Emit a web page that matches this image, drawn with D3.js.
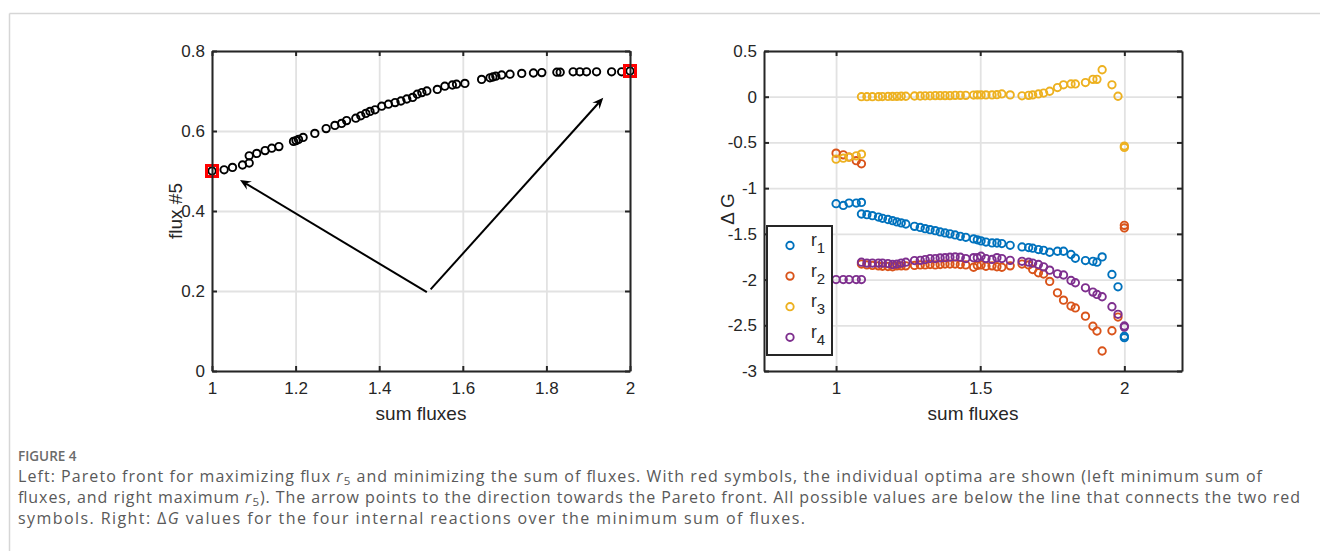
<!DOCTYPE html>
<html>
<head>
<meta charset="utf-8">
<script src="https://cdn.jsdelivr.net/npm/d3@7"></script>
<style>
  body { margin: 0; background: #fff; }
  svg { display: block; }
</style>
</head>
<body>
<svg id="fig" width="1320" height="551"></svg>
<script>
// ---------- Left panel: Pareto front (sum of fluxes vs flux #5) ----------
const paretoSum = [1.000,1.029,1.049,1.073,1.089,1.089,1.107,1.127,1.143,1.160,1.195,1.201,1.207,1.218,1.246,
  1.273,1.294,1.310,1.322,1.344,1.356,1.368,1.378,1.390,1.406,1.422,1.438,1.452,1.466,1.480,1.491,1.502,
  1.514,1.539,1.557,1.575,1.585,1.605,1.645,1.665,1.672,1.679,1.693,1.713,1.741,1.769,1.789,1.825,1.833,
  1.864,1.880,1.896,1.920,1.956,1.980,2.000];
const paretoFlux5 = [0.500,0.503,0.509,0.515,0.520,0.538,0.544,0.551,0.557,0.561,0.574,0.576,0.579,0.584,0.594,
  0.606,0.614,0.619,0.626,0.632,0.638,0.644,0.649,0.653,0.662,0.667,0.671,0.675,0.680,0.684,0.692,0.696,
  0.700,0.704,0.712,0.715,0.717,0.719,0.729,0.733,0.735,0.737,0.740,0.742,0.744,0.745,0.746,0.747,0.747,
  0.748,0.748,0.748,0.748,0.748,0.748,0.750];
// individual optima (red squares)
const optimaSum = [1.0, 2.0];
const optimaFlux5 = [0.50, 0.75];
// direction arrows towards the front
const arrowTails = [[1.514, 0.197], [1.523, 0.204]];
const arrowTips  = [[1.067, 0.4775], [1.936, 0.683]];

const leftXTicks = [1, 1.2, 1.4, 1.6, 1.8, 2];
const leftXTickLabels = ["1", "1.2", "1.4", "1.6", "1.8", "2"];
const leftYTicks = [0, 0.2, 0.4, 0.6, 0.8];
const leftYTickLabels = ["0", "0.2", "0.4", "0.6", "0.8"];

// ---------- Right panel: ΔG of the four internal reactions ----------
const sumFluxes = [1.000,1.025,1.045,1.070,1.088,1.088,1.107,1.126,1.147,1.161,1.180,1.196,1.211,1.226,1.242,
  1.272,1.292,1.309,1.326,1.344,1.361,1.378,1.395,1.413,1.431,1.450,1.477,1.490,1.503,1.520,1.541,1.558,
  1.575,1.604,1.645,1.668,1.682,1.702,1.720,1.741,1.768,1.789,1.815,1.830,1.865,1.891,1.905,1.923,1.957,
  1.978,2.000,2.000];
const dG_r1 = [-1.170,-1.189,-1.163,-1.163,-1.156,-1.283,-1.290,-1.301,-1.316,-1.330,-1.343,-1.356,-1.370,-1.380,
  -1.392,-1.418,-1.430,-1.443,-1.454,-1.465,-1.479,-1.490,-1.500,-1.512,-1.527,-1.538,-1.555,-1.565,-1.577,
  -1.590,-1.599,-1.600,-1.606,-1.625,-1.643,-1.650,-1.657,-1.672,-1.680,-1.701,-1.690,-1.690,-1.726,-1.767,
  -1.792,-1.800,-1.810,-1.752,-1.944,-2.079,-2.620,-2.635];
const dG_r2 = [-0.617,-0.636,-0.660,-0.700,-0.734,-1.830,-1.840,-1.845,-1.850,-1.855,-1.857,-1.860,-1.850,-1.850,
  -1.850,-1.845,-1.840,-1.840,-1.835,-1.840,-1.835,-1.830,-1.830,-1.830,-1.835,-1.840,-1.865,-1.845,-1.840,
  -1.855,-1.850,-1.860,-1.865,-1.850,-1.830,-1.840,-1.890,-1.926,-1.940,-2.020,-2.145,-2.225,-2.290,-2.310,
  -2.400,-2.510,-2.563,-2.781,-2.560,-2.410,-1.407,-1.435];
const dG_r3 = [-0.683,-0.672,-0.661,-0.647,-0.628,0.000,0.000,0.000,0.000,0.002,0.003,0.003,0.004,0.005,
  0.005,0.008,0.008,0.010,0.010,0.012,0.012,0.012,0.012,0.015,0.015,0.015,0.018,0.020,0.020,
  0.020,0.020,0.022,0.030,0.020,0.010,0.015,0.020,0.030,0.040,0.060,0.100,0.130,0.140,0.140,
  0.155,0.190,0.190,0.295,0.130,0.005,-0.540,-0.555];
const dG_r4 = [-2.000,-2.000,-2.000,-2.000,-2.000,-1.810,-1.820,-1.820,-1.820,-1.820,-1.825,-1.835,-1.830,-1.820,
  -1.810,-1.792,-1.790,-1.781,-1.770,-1.770,-1.763,-1.760,-1.755,-1.752,-1.755,-1.770,-1.760,-1.760,-1.745,
  -1.770,-1.780,-1.760,-1.770,-1.790,-1.800,-1.810,-1.820,-1.835,-1.861,-1.897,-1.937,-1.950,-2.010,-2.035,
  -2.090,-2.137,-2.163,-2.188,-2.297,-2.380,-2.508,-2.520];
const reactionNames = ["1", "2", "3", "4"];
const reactionColors = ["#0072BD", "#D95319", "#EDB120", "#7E2F8E"];

const rightXTicks = [1, 1.5, 2];
const rightXTickLabels = ["1", "1.5", "2"];
const rightYTicks = [0.5, 0, -0.5, -1, -1.5, -2, -2.5, -3];
const rightYTickLabels = ["0.5", "0", "-0.5", "-1", "-1.5", "-2", "-2.5", "-3"];

// ---------- drawing ----------
const svg = d3.select("#fig");
const AXIS = "#262626", GRID = "#e2e2e2";
const FONT = '"Liberation Sans", Arial, Helvetica, sans-serif';
const TICK_FS = 17, LABEL_FS = 19;

// page frame lines
svg.append("line").attr("x1", 9.5).attr("x2", 1320).attr("y1", 13.5).attr("y2", 13.5)
  .attr("stroke", "#d6d6d6").attr("stroke-width", 1.5);
svg.append("line").attr("x1", 9.5).attr("x2", 9.5).attr("y1", 13.5).attr("y2", 551)
  .attr("stroke", "#d6d6d6").attr("stroke-width", 1.5);

function panel(box, xDomain, yDomain, xTicks, xLabels, yTicks, yLabels) {
  const x = d3.scaleLinear().domain(xDomain).range([box.left, box.right]);
  const y = d3.scaleLinear().domain(yDomain).range([box.bottom, box.top]);
  const w = box.right - box.left, h = box.bottom - box.top;
  const g = svg.append("g");
  const fmt = (arr, ticks) => (d => arr[ticks.indexOf(d)]);

  // grid
  g.append("g").attr("transform", `translate(0,${box.bottom})`)
    .call(d3.axisBottom(x).tickValues(xTicks).tickSize(-h).tickFormat(""))
    .call(a => a.select(".domain").remove())
    .call(a => a.selectAll("line").attr("stroke", GRID).attr("stroke-width", 1.8));
  g.append("g").attr("transform", `translate(${box.left},0)`)
    .call(d3.axisLeft(y).tickValues(yTicks).tickSize(-w).tickFormat(""))
    .call(a => a.select(".domain").remove())
    .call(a => a.selectAll("line").attr("stroke", GRID).attr("stroke-width", 1.8));

  const styleAxis = a => {
    a.select(".domain").attr("stroke", AXIS).attr("stroke-width", 2);
    a.selectAll(".tick line").attr("stroke", AXIS).attr("stroke-width", 2);
    a.selectAll(".tick text").attr("fill", AXIS).attr("font-size", TICK_FS).attr("font-family", FONT);
  };
  // inward ticks on all four sides
  const axes = svg.append("g");
  axes.append("g").attr("transform", `translate(0,${box.bottom})`)
    .call(d3.axisBottom(x).tickValues(xTicks).tickSize(-5).tickSizeOuter(0).tickPadding(11)
      .tickFormat(fmt(xLabels, xTicks))).call(styleAxis);
  axes.append("g").attr("transform", `translate(0,${box.top})`)
    .call(d3.axisTop(x).tickValues(xTicks).tickSize(-5).tickSizeOuter(0).tickFormat("")).call(styleAxis);
  axes.append("g").attr("transform", `translate(${box.left},0)`)
    .call(d3.axisLeft(y).tickValues(yTicks).tickSize(-5).tickSizeOuter(0).tickPadding(7)
      .tickFormat(fmt(yLabels, yTicks))).call(styleAxis);
  axes.append("g").attr("transform", `translate(${box.right},0)`)
    .call(d3.axisRight(y).tickValues(yTicks).tickSize(-5).tickSizeOuter(0).tickFormat("")).call(styleAxis);
  return { x, y, g, axes };
}

const MR = 3.7, MW = 1.9;

// ----- left panel -----
const L = panel({ left: 212, right: 630, top: 51, bottom: 371 }, [1, 2], [0, 0.8],
  leftXTicks, leftXTickLabels, leftYTicks, leftYTickLabels);

L.g.append("g").selectAll("circle").data(paretoSum).join("circle")
  .attr("cx", d => L.x(d)).attr("cy", (d, i) => L.y(paretoFlux5[i])).attr("r", MR)
  .attr("fill", "none").attr("stroke", "#000").attr("stroke-width", MW);

const sq = 11;
L.g.append("g").selectAll("rect").data(optimaSum).join("rect")
  .attr("x", d => L.x(d) - sq / 2).attr("y", (d, i) => L.y(optimaFlux5[i]) - sq / 2)
  .attr("width", sq).attr("height", sq)
  .attr("fill", "none").attr("stroke", "#ff0000").attr("stroke-width", 3);

// arrows
arrowTails.forEach((t, i) => {
  const x0 = L.x(t[0]), y0 = L.y(t[1]);
  const x1 = L.x(arrowTips[i][0]), y1 = L.y(arrowTips[i][1]);
  const ang = Math.atan2(y1 - y0, x1 - x0);
  const len = 11, half = 4.8, notch = 7;
  const ux = Math.cos(ang), uy = Math.sin(ang), px = -uy, py = ux;
  L.g.append("line").attr("x1", x0).attr("y1", y0)
    .attr("x2", x1 - ux * notch).attr("y2", y1 - uy * notch)
    .attr("stroke", "#000").attr("stroke-width", 2);
  const pts = [
    [x1, y1],
    [x1 - ux * len + px * half, y1 - uy * len + py * half],
    [x1 - ux * notch, y1 - uy * notch],
    [x1 - ux * len - px * half, y1 - uy * len - py * half]
  ];
  L.g.append("path").attr("d", d3.line()(pts) + "Z").attr("fill", "#000");
});

svg.append("text").attr("x", 421).attr("y", 420).attr("text-anchor", "middle")
  .attr("font-family", FONT).attr("font-size", LABEL_FS).attr("fill", AXIS).text("sum fluxes");
svg.append("text").attr("transform", "translate(182,211) rotate(-90)").attr("text-anchor", "middle")
  .attr("font-family", FONT).attr("font-size", LABEL_FS).attr("fill", AXIS).text("flux #5");

// ----- right panel -----
const R = panel({ left: 764, right: 1182, top: 51, bottom: 371 }, [0.75, 2.2], [-3, 0.5],
  rightXTicks, rightXTickLabels, rightYTicks, rightYTickLabels);

const series = [dG_r1, dG_r2, dG_r3, dG_r4];
series.forEach((vals, k) => {
  R.g.append("g").selectAll("circle").data(vals).join("circle")
    .attr("cx", (d, i) => R.x(sumFluxes[i])).attr("cy", d => R.y(d)).attr("r", MR)
    .attr("fill", "none").attr("stroke", reactionColors[k]).attr("stroke-width", MW);
});

// legend
const leg = svg.append("g");
leg.append("rect").attr("x", 767).attr("y", 226).attr("width", 65).attr("height", 129)
  .attr("fill", "#fff").attr("stroke", AXIS).attr("stroke-width", 2);
reactionNames.forEach((n, k) => {
  const cy = 245.5 + k * 30.6;
  leg.append("circle").attr("cx", 790).attr("cy", cy).attr("r", MR)
    .attr("fill", "none").attr("stroke", reactionColors[k]).attr("stroke-width", MW);
  const t = leg.append("text").attr("x", 811).attr("y", cy + 0.5)
    .attr("font-family", FONT).attr("font-size", 17.5).attr("fill", AXIS);
  t.append("tspan").text("r");
  t.append("tspan").attr("dy", 7).attr("font-size", 15).text(n);
});

svg.append("text").attr("x", 973).attr("y", 420).attr("text-anchor", "middle")
  .attr("font-family", FONT).attr("font-size", LABEL_FS).attr("fill", AXIS).text("sum fluxes");
svg.append("text").attr("transform", "translate(734,209) rotate(-90)").attr("text-anchor", "middle")
  .attr("font-family", FONT).attr("font-size", LABEL_FS).attr("fill", AXIS).text("Δ G");

// ---------- caption ----------
const CAP = '"Open Sans", "Noto Sans", sans-serif';
const CAP_FS = 16;
svg.append("text").attr("x", 18).attr("y", 461).attr("font-family", CAP).attr("font-size", 13.5)
  .attr("font-weight", 600).attr("fill", "#6b6b6b").text("FIGURE 4");

function captionLine(y, width, segs) {
  const t = svg.append("text").attr("x", 18).attr("y", y).attr("font-family", CAP)
    .attr("font-size", CAP_FS).attr("fill", "#595959")
    .attr("textLength", width).attr("lengthAdjust", "spacing");
  let shifted = false;
  segs.forEach(s => {
    const sp = t.append("tspan").text(s.text);
    if (s.italic) sp.attr("font-style", "italic");
    if (s.sub) { sp.attr("font-size", CAP_FS * 0.72).attr("dy", 3); shifted = true; }
    else if (shifted) { sp.attr("dy", -3); shifted = false; }
  });
}
captionLine(482, 1244, [
  { text: "Left: Pareto front for maximizing flux " }, { text: "r", italic: true }, { text: "5", sub: true },
  { text: " and minimizing the sum of fluxes. With red symbols, the individual optima are shown (left minimum sum of" }
]);
captionLine(503, 1282, [
  { text: "fluxes, and right maximum " }, { text: "r", italic: true }, { text: "5", sub: true },
  { text: "). The arrow points to the direction towards the Pareto front. All possible values are below the line that connects the two red" }
]);
captionLine(524, 787, [
  { text: "symbols. Right: Δ" }, { text: "G", italic: true },
  { text: " values for the four internal reactions over the minimum sum of fluxes." }
]);
</script>
</body>
</html>
